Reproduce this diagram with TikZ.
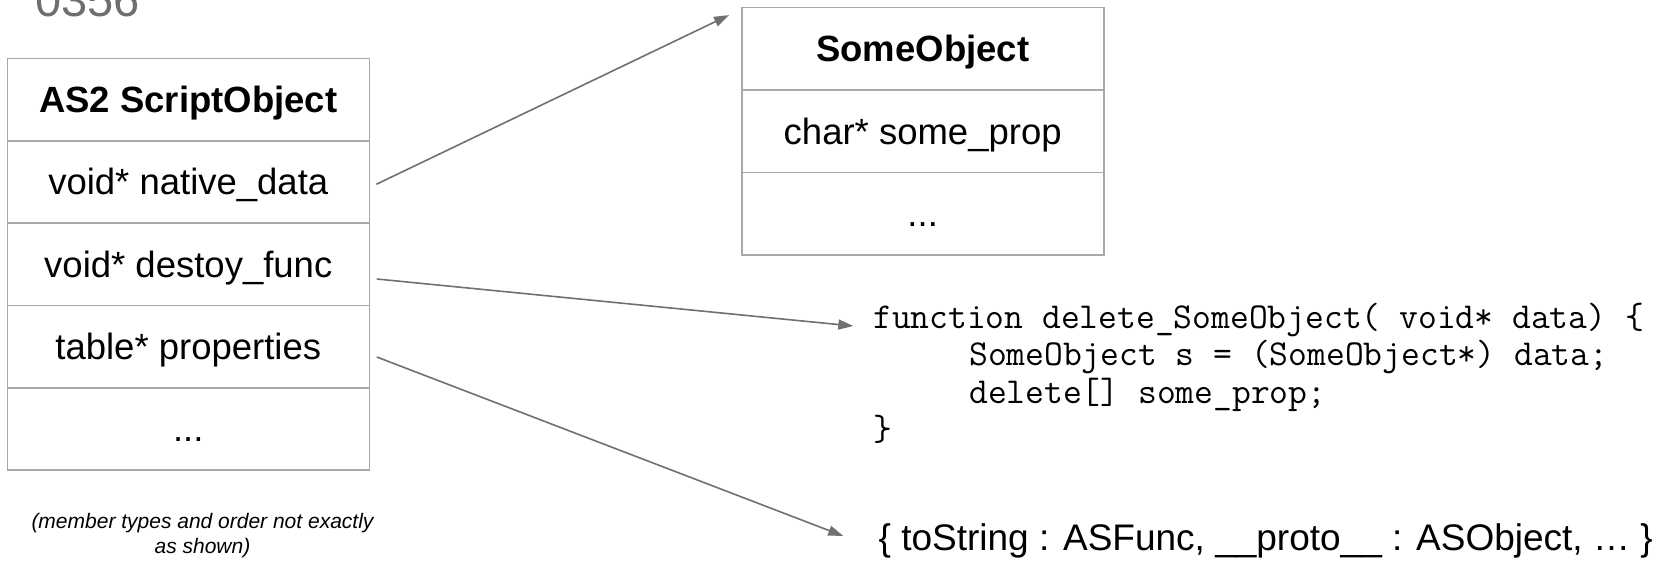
\documentclass[tikz,border=0pt]{standalone}
\usepackage{fontspec}
\setmainfont{Liberation Sans}
\usetikzlibrary{arrows.meta}
\definecolor{boxline}{HTML}{A8A8A8}
\definecolor{arrowgray}{HTML}{707070}
\definecolor{titlegray}{HTML}{6E6E6E}

\begin{document}
\begin{tikzpicture}[x=1pt,y=-1pt,
  row/.style={draw=boxline, line width=1.6pt, minimum width=362pt,
    minimum height=82.4pt, inner sep=0pt, outer sep=0pt,
    text height=26pt, text depth=0pt,
    font=\fontsize{36.5}{40}\selectfont},
  headrow/.style={row, font=\fontsize{36.5}{40}\selectfont\bfseries},
  ptr/.style={draw=arrowgray, line width=1.6pt,
    -{Triangle[length=15pt,width=10pt]}},
  codeline/.style={anchor=base west, inner sep=0pt,
    font=\ttfamily\fontsize{36.5}{37}\selectfont},
  plain/.style={anchor=base west, inner sep=0pt,
    font=\fontsize{37}{40}\selectfont},
  note/.style={anchor=base, inner sep=0pt,
    font=\itshape\fontsize{21}{25}\selectfont},
]
\useasboundingbox (0,0) rectangle (1660,560);

% slide number
\node[anchor=base west, inner sep=0pt, text=titlegray,
      font=\fontsize{47}{50}\selectfont] (title) at (35,16) {0356};

% AS2 ScriptObject layout
\node[headrow] (a0) at (188.3, 99.5) {AS2 ScriptObject};
\node[row]     (a1) at (188.3,181.8) {void* native\_data};
\node[row]     (a2) at (188.3,264.2) {void* destoy\_func};
\node[row]     (a3) at (188.3,346.5) {table* properties};
\node[row]     (a4) at (188.3,428.9) {...};

\node[note] (note1) at (202.5,528) {(member types and order not exactly};
\node[note] (note2) at (202.5,553) {as shown)};

% native object
\node[headrow] (b0) at (922.7, 48.6) {SomeObject};
\node[row]     (b1) at (922.7,131.1) {char* some\_prop};
\node[row]     (b2) at (922.7,213.7) {...};

% destructor
\node[codeline] (c1) at (873,328)   {function delete\_SomeObject( void* data) \{};
\node[codeline] (c2) at (969,365.5) {SomeObject s = (SomeObject*) data;};
\node[codeline] (c3) at (969,403)   {delete[] some\_prop;};
\node[codeline] (c4) at (873,440.5) {\}};

% property table
\node[plain] (props) at (878.5,550) {\{ toString : ASFunc, \_\_proto\_\_ : ASObject, … \}};

% pointers
\draw[ptr] ([xshift=7pt,yshift=-2.5pt]a1.east) -- ([xshift=-12.7pt,yshift=-7.7pt]b0.north west);
\draw[ptr] ([xshift=7.5pt,yshift=-14.8pt]a2.east) -- ([xshift=-19.7pt,yshift=2pt]c1.base west);
\draw[ptr] ([xshift=7.5pt,yshift=-10.5pt]a3.east) -- ([xshift=-35.2pt,yshift=14pt]props.base west);
\end{tikzpicture}
\end{document}
